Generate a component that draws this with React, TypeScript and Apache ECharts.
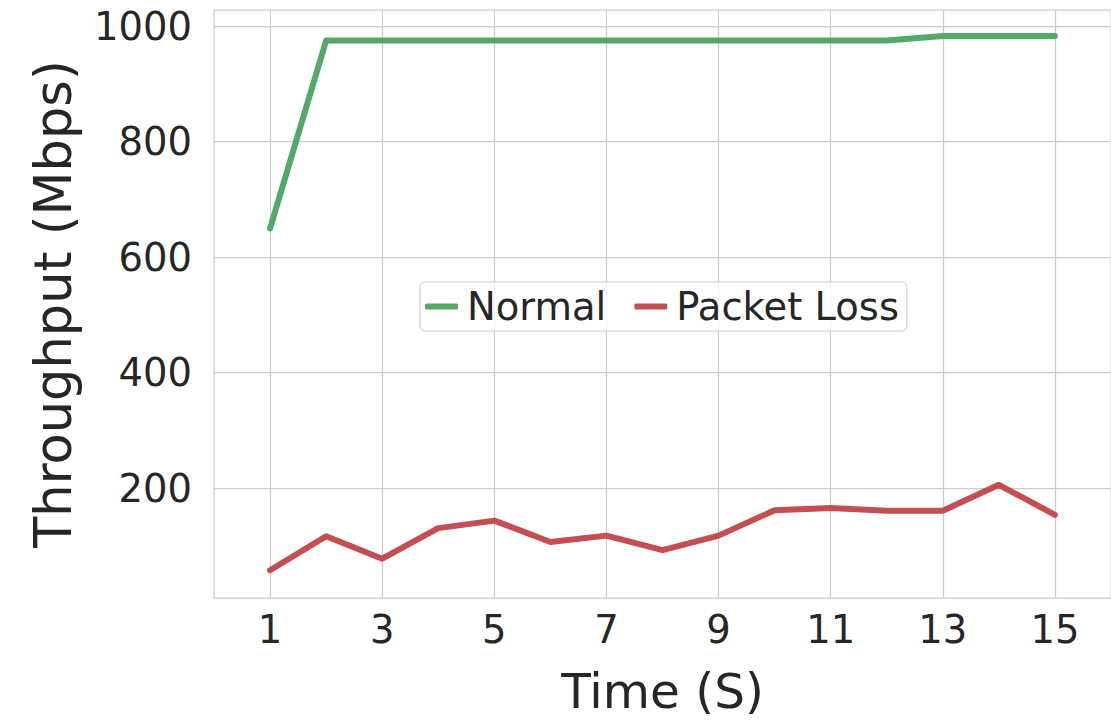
import React, { useEffect, useRef } from "react";
import * as echarts from "echarts";

// Time steps (seconds)
const times = [1, 2, 3, 4, 5, 6, 7, 8, 9, 10, 11, 12, 13, 14, 15];
// Throughput in Mbps
const normal = [650, 975, 975, 975, 975, 975, 975, 975, 975, 975, 975, 975, 983, 983, 983];
const packetLoss = [58, 117, 78, 131, 144, 107, 118, 93, 118, 162, 166, 161, 161, 206, 154];

const xTicks = [1, 3, 5, 7, 9, 11, 13, 15];
const yTicks = [200, 400, 600, 800, 1000];

const FONT = "DejaVu Sans";
const TEXT = "#262626";
const GRID = "#cccccc";

export default function App() {
  const ref = useRef<HTMLDivElement>(null);

  useEffect(() => {
    if (!ref.current) return;
    const chart = echarts.init(ref.current, undefined, { renderer: "svg" });
    chart.setOption({
      animation: false,
      backgroundColor: "#ffffff",
      textStyle: { fontFamily: FONT, color: TEXT },
      grid: {
        left: 214,
        top: 10,
        width: 898,
        height: 592,
        show: true,
        borderColor: GRID,
        borderWidth: 1.25,
        backgroundColor: "transparent",
      },
      legend: {
        left: 420,
        top: 282,
        orient: "horizontal",
        icon: "roundRect",
        itemWidth: 33,
        itemHeight: 6,
        itemGap: 28,
        padding: [5, 8, 5, 5],
        borderColor: GRID,
        borderWidth: 1,
        borderRadius: 5,
        backgroundColor: "rgba(255,255,255,0.8)",
        textStyle: {
          fontFamily: FONT,
          fontSize: 38.5,
          color: TEXT,
          lineHeight: 38,
          padding: [0, 0, 0, 4],
        },
        data: ["Normal", "Packet Loss"],
      },
      xAxis: {
        type: "value",
        min: 0,
        max: 16,
        name: "Time (S)",
        nameLocation: "middle",
        nameGap: 68,
        nameTextStyle: { fontFamily: FONT, fontSize: 48.5, color: TEXT },
        axisLine: { show: false },
        axisTick: { show: false, customValues: xTicks },
        axisLabel: {
          customValues: xTicks,
          fontFamily: FONT,
          fontSize: 38.5,
          color: TEXT,
          margin: 12,
        },
        splitLine: { show: true, lineStyle: { color: GRID, width: 1.25 } },
      },
      yAxis: {
        type: "value",
        min: 10,
        max: 1028,
        name: "Throughput (Mbps)",
        nameLocation: "middle",
        nameGap: 135,
        nameTextStyle: { fontFamily: FONT, fontSize: 51, color: TEXT },
        axisLine: { show: false },
        axisTick: { show: false, customValues: yTicks },
        axisLabel: {
          customValues: yTicks,
          formatter: (v: number) => String(v),
          fontFamily: FONT,
          fontSize: 38.5,
          color: TEXT,
          margin: 22,
        },
        splitLine: { show: true, lineStyle: { color: GRID, width: 1.25 } },
      },
      series: [
        {
          name: "Normal",
          type: "line",
          data: times.map((t, i) => [t, normal[i]]),
          showSymbol: false,
          symbol: "none",
          itemStyle: { color: "#55a868" },
          lineStyle: { color: "#55a868", width: 6, cap: "round", join: "round" },
        },
        {
          name: "Packet Loss",
          type: "line",
          data: times.map((t, i) => [t, packetLoss[i]]),
          showSymbol: false,
          symbol: "none",
          itemStyle: { color: "#c44e52" },
          lineStyle: { color: "#c44e52", width: 6, cap: "round", join: "round" },
        },
      ],
    });
    return () => chart.dispose();
  }, []);

  return <div ref={ref} style={{ width: 1111, height: 720, position: "absolute", left: 0, top: 0 }} />;
}
